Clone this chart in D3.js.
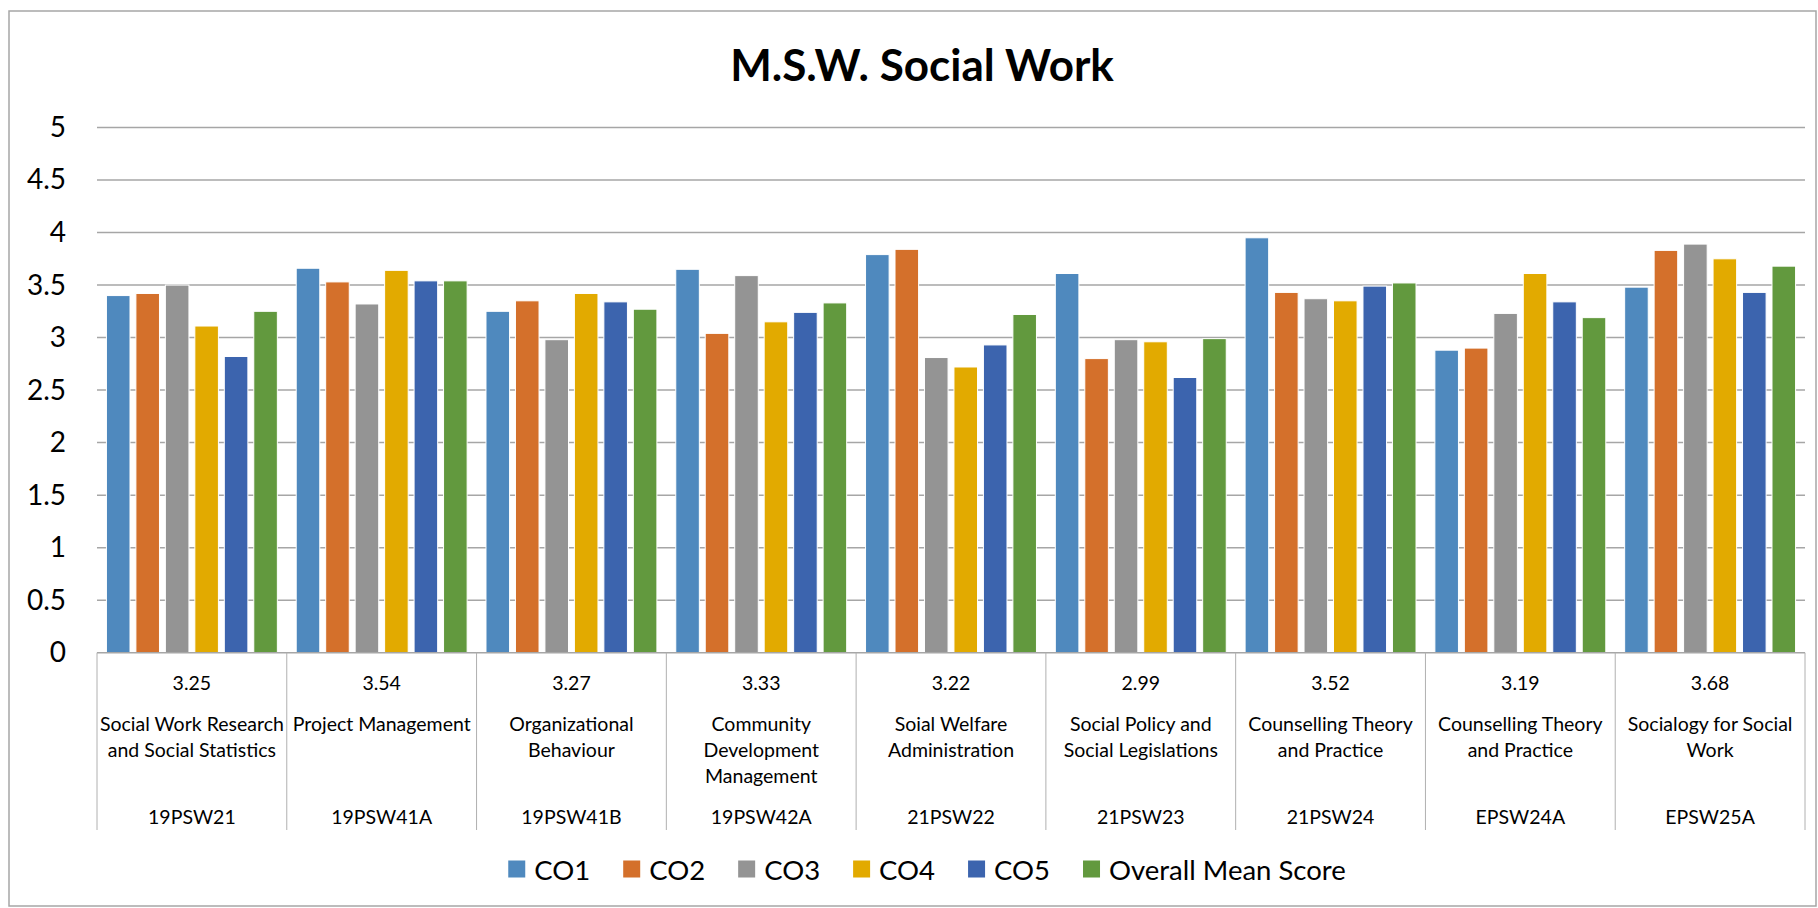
<!DOCTYPE html>
<html>
<head>
<meta charset="utf-8">
<script src="https://cdn.jsdelivr.net/npm/d3@7"></script>
<style>
  html, body { margin: 0; padding: 0; background: #fff; }
  svg text { font-family: Lato, "Open Sans", sans-serif; fill: #000; }
</style>
</head>
<body>
<div id="chart"></div>
<script>
// chart data
const courseCodes = ["19PSW21", "19PSW41A", "19PSW41B", "19PSW42A", "21PSW22",
                     "21PSW23", "21PSW24", "EPSW24A", "EPSW25A"];
const courseNames = [
    ["Social Work Research", "and Social Statistics"],
    ["Project Management"],
    ["Organizational", "Behaviour"],
    ["Community", "Development", "Management"],
    ["Soial Welfare", "Administration"],
    ["Social Policy and", "Social Legislations"],
    ["Counselling Theory", "and Practice"],
    ["Counselling Theory", "and Practice"],
    ["Socialogy for Social", "Work"]
];
const meanLabels = ["3.25", "3.54", "3.27", "3.33", "3.22", "2.99", "3.52", "3.19", "3.68"];

const seriesNames = ["CO1", "CO2", "CO3", "CO4", "CO5", "Overall Mean Score"];
const co1 = [3.40, 3.66, 3.25, 3.65, 3.79, 3.61, 3.95, 2.88, 3.48];
const co2 = [3.42, 3.53, 3.35, 3.04, 3.84, 2.80, 3.43, 2.90, 3.83];
const co3 = [3.50, 3.32, 2.98, 3.59, 2.81, 2.98, 3.37, 3.23, 3.89];
const co4 = [3.11, 3.64, 3.42, 3.15, 2.72, 2.96, 3.35, 3.61, 3.75];
const co5 = [2.82, 3.54, 3.34, 3.24, 2.93, 2.62, 3.49, 3.34, 3.43];
const overall = [3.25, 3.54, 3.27, 3.33, 3.22, 2.99, 3.52, 3.19, 3.68];
const yTicks = [0, 0.5, 1, 1.5, 2, 2.5, 3, 3.5, 4, 4.5, 5];

const seriesColors = ["#4f89be", "#d4702b", "#949494", "#e2aa00", "#3c64ae", "#62993e"];

const width = 1818, height = 908;
const plot = {left: 97, right: 1805, top: 127.5, bottom: 652.7};

// flatten into rows the scales can use
const seriesValues = [co1, co2, co3, co4, co5, overall];
const rows = courseCodes.map((code, i) => ({
    code: code,
    values: seriesNames.map((s, j) => ({series: s, value: seriesValues[j][i]}))
}));

const svg = d3.select("#chart")
    .append("svg")
        .attr("width", width)
        .attr("height", height);

// outer chart border
svg.append("rect")
    .attr("x", 9).attr("y", 11)
    .attr("width", 1807).attr("height", 895)
    .attr("fill", "#fff")
    .attr("stroke", "#a6a6a6")
    .attr("stroke-width", 1.5);

const x = d3.scaleBand()
    .domain(courseCodes)
    .range([plot.left, plot.right])
    .padding(0);

const xSub = d3.scaleBand()
    .domain(seriesNames)
    .range([0, x.bandwidth()])
    .paddingInner(0.2)
    .paddingOuter(0.32);

const y = d3.scaleLinear()
    .domain([0, 5])
    .range([plot.bottom, plot.top]);

// title
svg.append("text")
    .attr("x", 922)
    .attr("y", 64)
    .attr("text-anchor", "middle")
    .attr("dominant-baseline", "central")
    .style("font-size", "44px")
    .style("font-weight", "bold")
    .text("M.S.W. Social Work");

// horizontal gridlines
svg.append("g")
    .attr("class", "grid")
    .selectAll("line")
    .data(yTicks.filter(d => d > 0))
    .enter()
        .append("line")
        .attr("x1", plot.left)
        .attr("x2", plot.right)
        .attr("y1", d => y(d))
        .attr("y2", d => y(d))
        .attr("stroke", "#a6a6a6")
        .attr("stroke-width", 1.5);

// y axis labels
const yAxis = svg.append("g")
    .attr("transform", `translate(${plot.left},0)`)
    .call(d3.axisLeft(y).tickValues(yTicks).tickSize(0).tickPadding(31).tickFormat(d => String(d)));
yAxis.select(".domain").remove();
yAxis.selectAll("text")
    .style("font-size", "28px")
    .attr("fill", "#000");

// bars
svg.append("g")
    .selectAll("g")
    .data(rows)
    .enter()
        .append("g")
        .attr("transform", d => `translate(${x(d.code)},0)`)
    .selectAll("rect")
        .data(d => d.values)
    .enter()
        .append("rect")
        .attr("x", d => xSub(d.series))
        .attr("y", d => y(d.value))
        .attr("width", xSub.bandwidth())
        .attr("height", d => y(0) - y(d.value))
        .attr("fill", (d, i) => seriesColors[i])
        .attr("stroke", "#fff")
        .attr("stroke-width", 1);

// category axis: baseline + separators
const catBottom = 830;
svg.append("line")
    .attr("x1", plot.left).attr("x2", plot.right)
    .attr("y1", y(0)).attr("y2", y(0))
    .attr("stroke", "#a6a6a6")
    .attr("stroke-width", 1.5);

const edges = courseCodes.map(c => x(c)).concat([plot.right]);
svg.append("g")
    .selectAll("line")
    .data(edges)
    .enter()
        .append("line")
        .attr("x1", d => d).attr("x2", d => d)
        .attr("y1", y(0)).attr("y2", catBottom)
        .attr("stroke", "#b0b0b0")
        .attr("stroke-width", 1);

// three levels of category labels
const cats = svg.append("g")
    .selectAll("g")
    .data(courseCodes)
    .enter()
        .append("g")
        .attr("transform", d => `translate(${x(d) + x.bandwidth() / 2},0)`)
        .style("font-size", "19.5px")
        .attr("text-anchor", "middle");

cats.append("text")
    .attr("y", 682)
    .attr("dominant-baseline", "central")
    .text((d, i) => meanLabels[i]);

cats.each(function(d, i) {
    d3.select(this).selectAll("text.name")
        .data(courseNames[i])
        .enter()
            .append("text")
            .attr("class", "name")
            .attr("y", (t, k) => 723 + k * 26)
            .attr("dominant-baseline", "central")
            .text(t => t);
});

cats.append("text")
    .attr("y", 816)
    .attr("dominant-baseline", "central")
    .text(d => d);

// legend
const legend = svg.append("g");
const items = legend.selectAll("g")
    .data(seriesNames)
    .enter()
        .append("g");
items.append("rect")
    .attr("width", 17).attr("height", 17)
    .attr("y", -8.5)
    .attr("fill", (d, i) => seriesColors[i]);
items.append("text")
    .attr("x", 26)
    .attr("dominant-baseline", "central")
    .style("font-size", "27.5px")
    .text(d => d);

let offset = 0;
items.each(function() {
    d3.select(this).attr("transform", `translate(${offset},0)`);
    const tw = this.querySelector("text").getComputedTextLength();
    offset += 26 + tw + 33;
});
const legendWidth = offset - 33;
legend.attr("transform", `translate(${927 - legendWidth / 2},869)`);
</script>
</body>
</html>
